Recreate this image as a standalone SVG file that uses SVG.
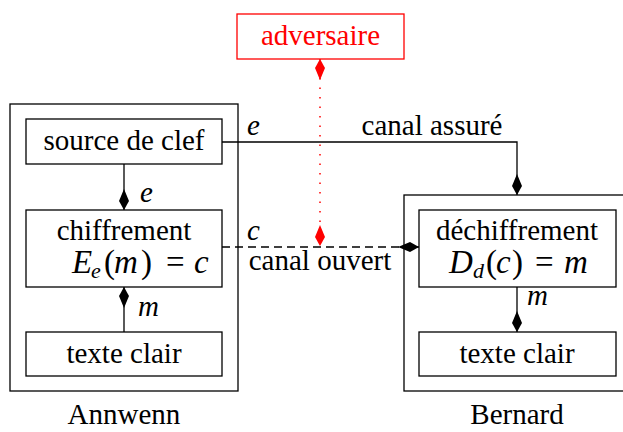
<svg xmlns="http://www.w3.org/2000/svg" width="623" height="432" viewBox="0 0 623 432" font-family="Liberation Serif, serif" font-size="29">
<style>
.box{fill:#fff;stroke:#000;stroke-width:1.3}
.outer{fill:none;stroke:#000;stroke-width:1.3}
.m{font-style:italic}
.mx{font-style:italic;font-size:33px}
.n{font-style:normal}
.s{font-size:22px}
.line{fill:none;stroke:#000;stroke-width:1.3}
.red{fill:#f00}
</style>
<defs>
<marker id="dia" viewBox="-22 -6 23 12" refX="0" refY="0" markerWidth="23" markerHeight="12" markerUnits="userSpaceOnUse" orient="auto-start-reverse">
<path d="M0,0 L-9,-5 L-21,0 L-9,5 Z" fill="#000"/>
</marker>
<marker id="diar" viewBox="-22 -6 23 12" refX="0" refY="0" markerWidth="23" markerHeight="12" markerUnits="userSpaceOnUse" orient="auto-start-reverse">
<path d="M0,0 L-9,-5 L-21,0 L-9,5 Z" fill="#f00"/>
</marker>
</defs>
<g id="annwenn">
<rect class="outer" x="10" y="104" width="228" height="287"/>
<text x="124" y="424" text-anchor="middle">Annwenn</text>
</g>
<g id="bernard">
<rect class="outer" x="404" y="195" width="230" height="196"/>
<text x="517" y="424" text-anchor="middle">Bernard</text>
</g>
<g id="connectors">
<path d="M320,59 V246" fill="none" stroke="#f00" stroke-width="1.5" stroke-dasharray="1.5,8" marker-start="url(#diar)" marker-end="url(#diar)"/>
<path class="line" d="M222,142 H517 V195" marker-end="url(#dia)"/>
<path class="line" d="M124,164 V210" marker-end="url(#dia)"/>
<path class="line" d="M124,332 V287" marker-end="url(#dia)"/>
<path class="line" d="M517,287 V332" marker-end="url(#dia)"/>
<path class="line" d="M222,247 H419" stroke-dasharray="8,5" marker-end="url(#dia)"/>
<text class="m" x="247" y="135">e</text>
<text x="432" y="135" text-anchor="middle">canal assuré</text>
<text class="m" x="247" y="240">c</text>
<text x="320" y="270" text-anchor="middle">canal ouvert</text>
<text class="m" x="140" y="202">e</text>
<text class="m" x="138" y="316">m</text>
<text class="m" x="527" y="305">m</text>
</g>
<g id="adversaire">
<rect x="237" y="14" width="167" height="45" fill="#fff" stroke="#f00" stroke-width="1.3"/>
<text class="red" x="320.5" y="45" text-anchor="middle">adversaire</text>
</g>
<g id="source">
<rect class="box" x="26" y="119" width="196" height="45"/>
<text x="124" y="150" text-anchor="middle">source de clef</text>
</g>
<g id="chiffrement">
<rect class="box" x="26" y="210" width="196" height="77"/>
<text x="124" y="240" text-anchor="middle">chiffrement</text>
<text class="mx" y="273"><tspan x="72">E</tspan><tspan class="s" x="91" dy="5">e</tspan><tspan class="n" x="104" dy="-5">(</tspan><tspan x="114">m</tspan><tspan class="n" x="141">)</tspan><tspan class="n" x="166">=</tspan><tspan x="194">c</tspan></text>
</g>
<g id="texteA">
<rect class="box" x="26" y="332" width="196" height="44"/>
<text x="124" y="363" text-anchor="middle">texte clair</text>
</g>
<g id="dechiffrement">
<rect class="box" x="419" y="210" width="197" height="77"/>
<text x="517" y="240" text-anchor="middle">déchiffrement</text>
<text class="mx" y="273"><tspan x="449">D</tspan><tspan class="s" x="473" dy="5">d</tspan><tspan class="n" x="486" dy="-5">(</tspan><tspan x="496">c</tspan><tspan class="n" x="512">)</tspan><tspan class="n" x="535">=</tspan><tspan x="564">m</tspan></text>
</g>
<g id="texteB">
<rect class="box" x="419" y="332" width="197" height="44"/>
<text x="517" y="363" text-anchor="middle">texte clair</text>
</g>
</svg>
